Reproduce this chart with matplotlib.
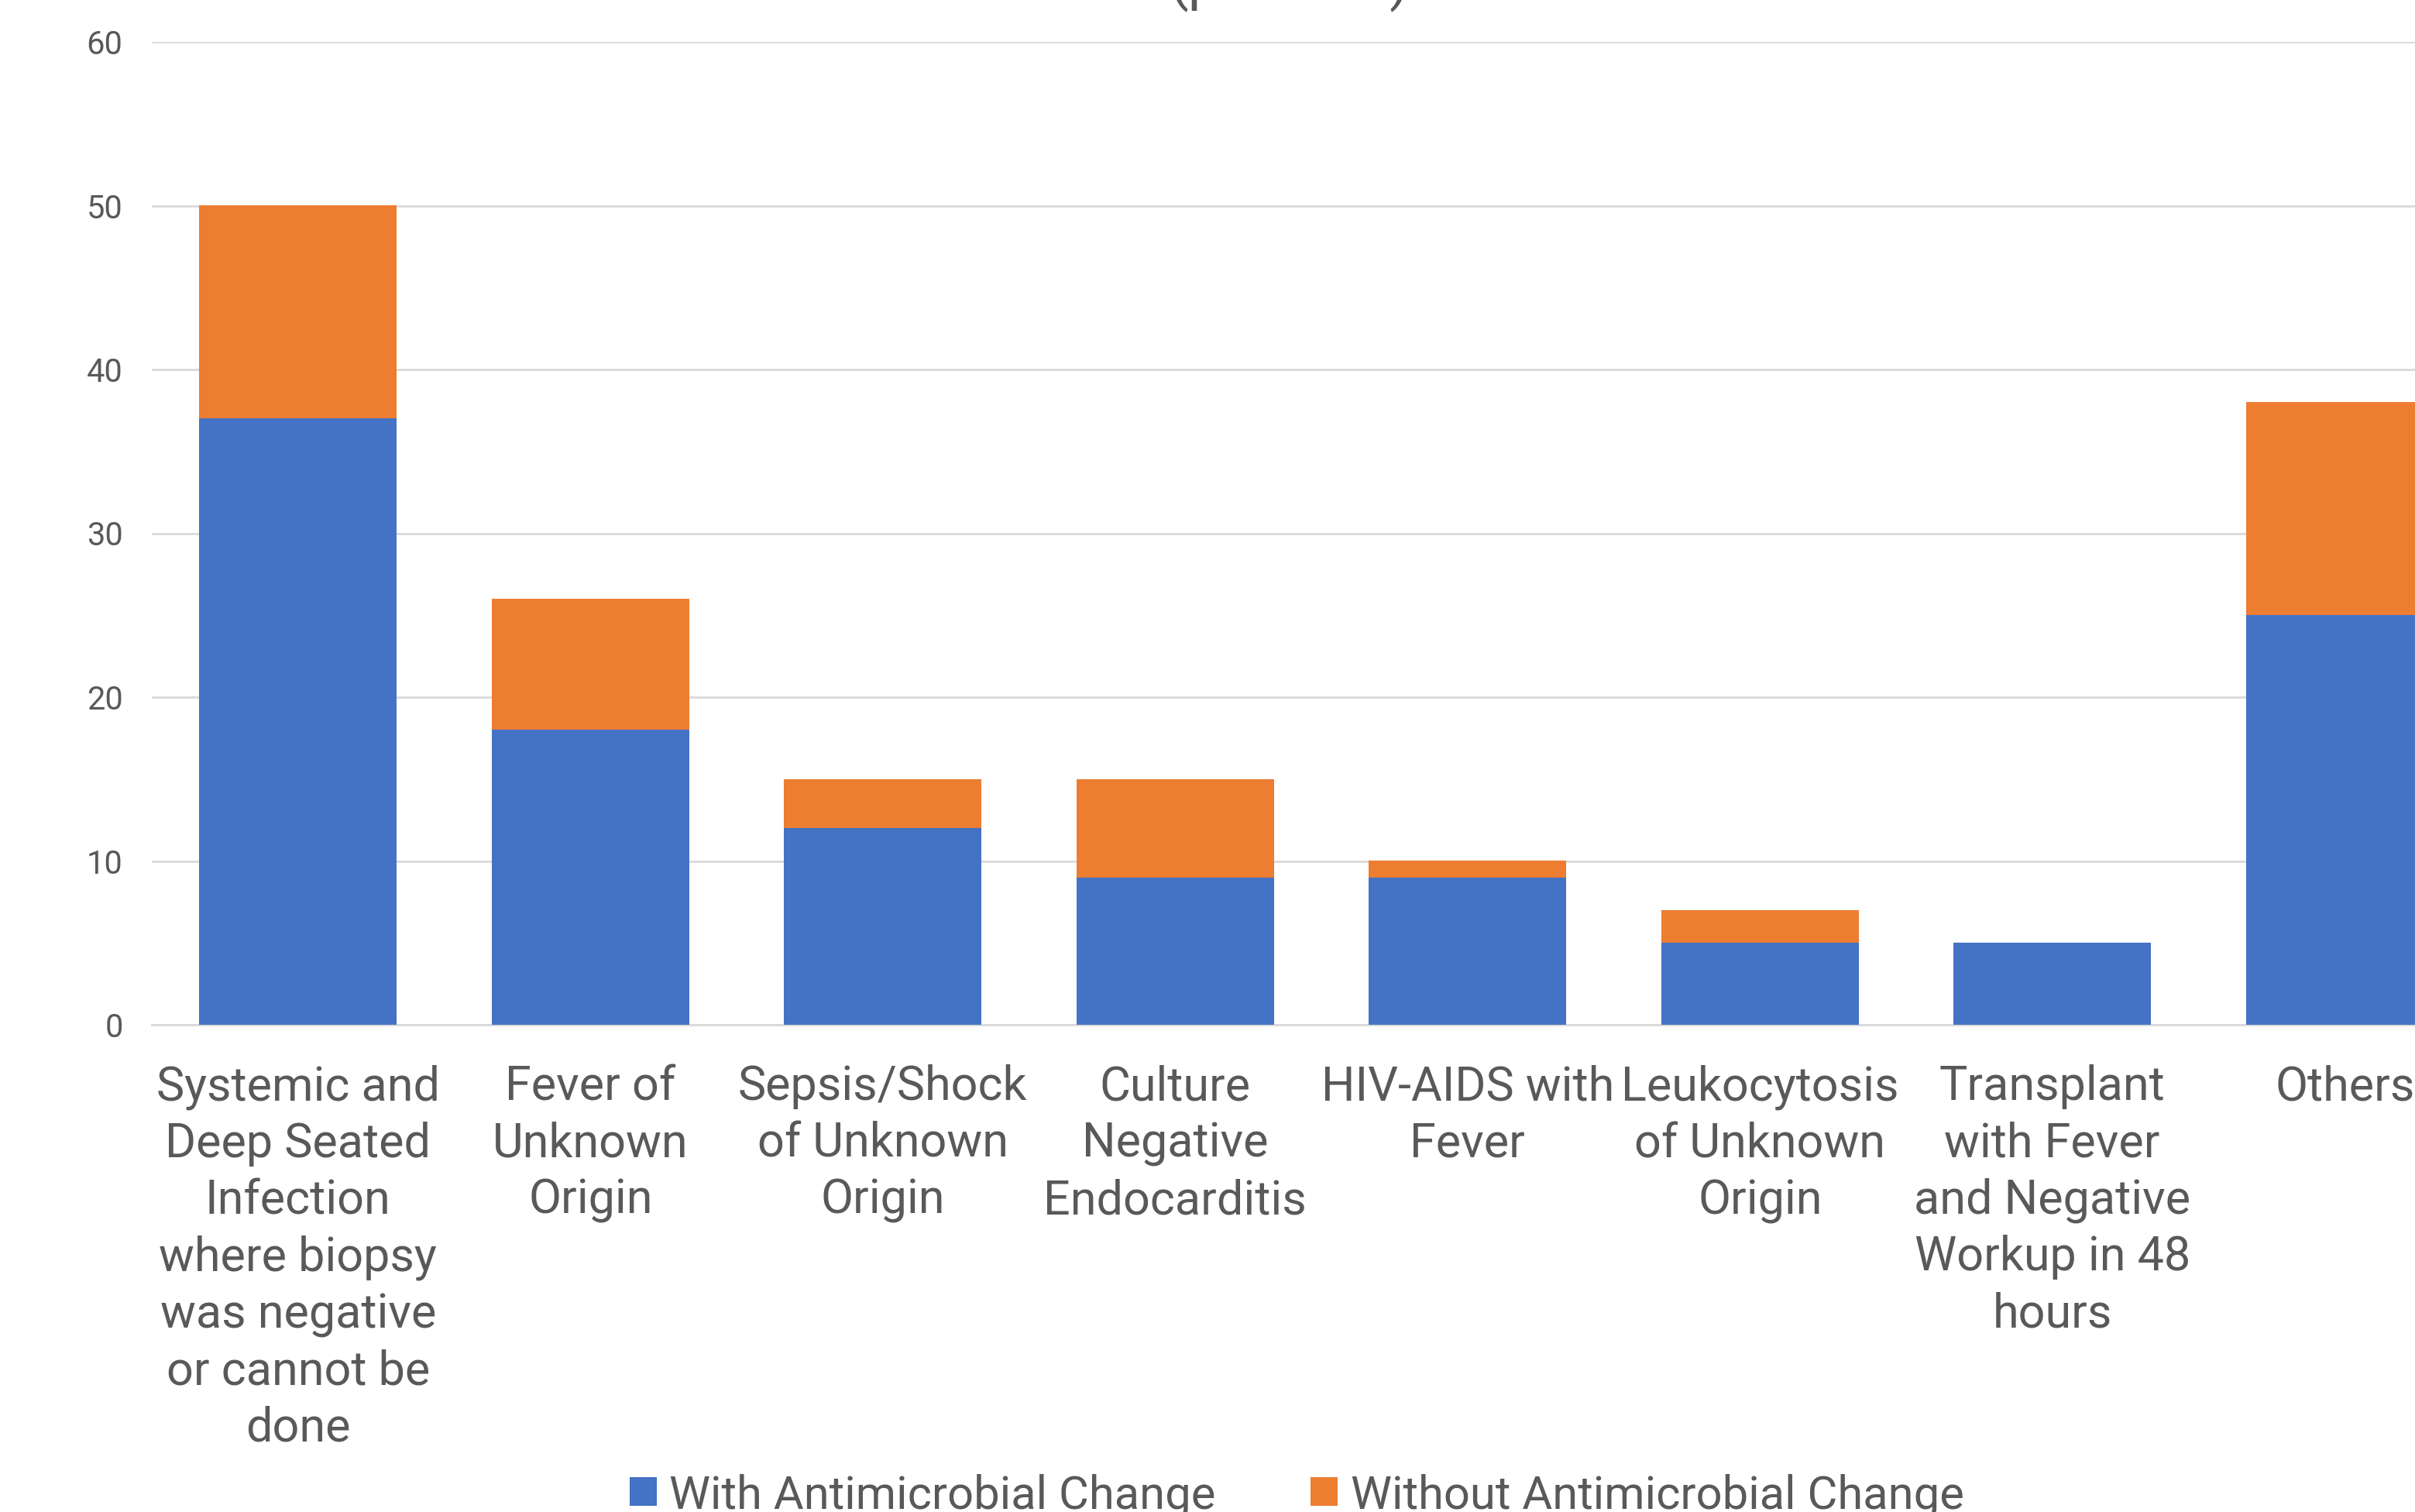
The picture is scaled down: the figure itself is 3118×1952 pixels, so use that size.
import matplotlib
matplotlib.use("Agg")
import matplotlib.pyplot as plt
from matplotlib.patches import Patch

categories = [
    "Systemic and\nDeep Seated\nInfection\nwhere biopsy\nwas negative\nor cannot be\ndone",
    "Fever of\nUnknown\nOrigin",
    "Sepsis/Shock\nof Unknown\nOrigin",
    "Culture\nNegative\nEndocarditis",
    "HIV-AIDS with\nFever",
    "Leukocytosis\nof Unknown\nOrigin",
    "Transplant\nwith Fever\nand Negative\nWorkup in 48\nhours",
    "Others",
]
with_change = [37, 18, 12, 9, 9, 5, 5, 25]
without_change = [13, 8, 3, 6, 1, 2, 0, 13]
series_names = ["With Antimicrobial Change", "Without Antimicrobial Change"]
yticks = [0, 10, 20, 30, 40, 50, 60]
title = "(patients)"

BLUE = "#4472C4"
ORANGE = "#ED7D31"
TXT = "#595959"
GRID = "#D9D9D9"

plt.rcParams['font.family'] = ['Roboto', 'DejaVu Sans']

W, H = 3118, 1952
fig = plt.figure(figsize=(W / 100, H / 100), dpi=100)
left = 196 / W
right = 3216 / W
bottom = 1 - 1323 / H
top = 1 - 54 / H
ax = fig.add_axes([left, bottom, right - left, top - bottom])

x = list(range(len(categories)))
ax.bar(x, with_change, width=0.675, color=BLUE, zorder=3)
ax.bar(x, without_change, width=0.675, bottom=with_change, color=ORANGE, zorder=3)

ax.set_xlim(-0.5, len(categories) - 0.5)
ax.set_ylim(0, 60)
ax.set_yticks(yticks)
ax.set_yticklabels([str(v) for v in yticks], fontsize=30, color=TXT)
ax.set_xticks(x)
ax.set_xticklabels(categories, fontsize=44, color=TXT, linespacing=1.33, va='top')
ax.tick_params(axis='both', length=0)
ax.tick_params(axis='x', pad=37)
ax.tick_params(axis='y', pad=27)
ax.grid(axis='y', color=GRID, linewidth=2, zorder=0)
for s in ['top', 'right', 'left']:
    ax.spines[s].set_visible(False)
ax.spines['bottom'].set_color(GRID)
ax.spines['bottom'].set_linewidth(2)

fig.text(1664 / W, 1 + 2 / H, title, fontsize=52, color=TXT, ha='center', va='baseline')

handles = [Patch(facecolor=BLUE), Patch(facecolor=ORANGE)]
fig.legend(handles, series_names, loc='upper left', bbox_to_anchor=(813 / W, 1 - 1902 / H),
           ncol=2, frameon=False, fontsize=43, labelcolor=TXT, borderpad=0, borderaxespad=0,
           handlelength=0.58, handleheight=0.58, handletextpad=0.28, columnspacing=2.05)

fig.savefig("out.png", dpi=100)
